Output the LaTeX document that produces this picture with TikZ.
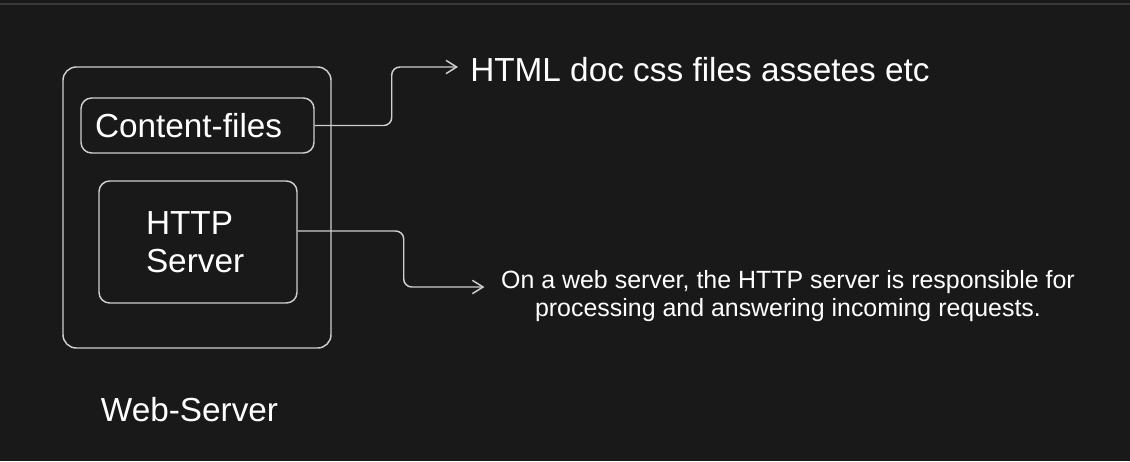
\documentclass[tikz,border=0pt]{standalone}
\usepackage{fontspec}
\setmainfont{Liberation Sans}
\usetikzlibrary{arrows.meta}
\definecolor{bgdark}{HTML}{191919}
\definecolor{topline}{HTML}{3A3A3A}
\definecolor{strokegray}{HTML}{CFCFCF}

\begin{document}
\begin{tikzpicture}[x = 0.75pt, y = -0.75pt,
        box/.style={draw=strokegray, line width=1.1pt, rounded corners=8pt, inner sep=0pt},
        lbl/.style={text=white, font=\fontsize{25}{28.5}\selectfont},
        wire/.style={draw=strokegray, line width=1.1pt, rounded corners=6pt,
            -{Straight Barb[length=8pt,width=10pt]}}
]
    \fill[bgdark] (0,0) rectangle (1130,461);
    \useasboundingbox (0,0) rectangle (1130,461);
    \draw[topline, line width=1.1pt] (0,4) -- (1130,4);

    \node[box, rounded corners=10pt, minimum width=201pt, minimum height=210.75pt] (server) at (197,207.5) {};
    \node[box, lbl, minimum height=41.25pt, inner xsep=10.5pt, text width=153.75pt, align=left] (content) at (197.5,125.5) {Content-files};
    \node[box, lbl, minimum height=91.5pt, inner xsep=35.25pt, text width=78pt, align=left] (http) at (198,242) {HTTP\\Server};
    \node[lbl] (webserver) at (189.5,410) {Web-Server};
    \node[lbl, anchor=west, inner xsep=9pt] (html) at (458,70) {HTML doc css files assetes etc};
    \node[text=white, font=\fontsize{18.7}{21.5}\selectfont, align=center] (desc) at (788,296)
        {On a web server, the HTTP server is responsible for\\processing and answering incoming requests.};

    \draw[wire] (content.east) -- ++(77,0) |- ([yshift=2.25pt]html.west);
    \draw[wire] ([yshift=8.25pt]http.east) -- ++(106,0) |- ([xshift=-9pt,yshift=6.75pt]desc.west);

\end{tikzpicture}
\end{document}
